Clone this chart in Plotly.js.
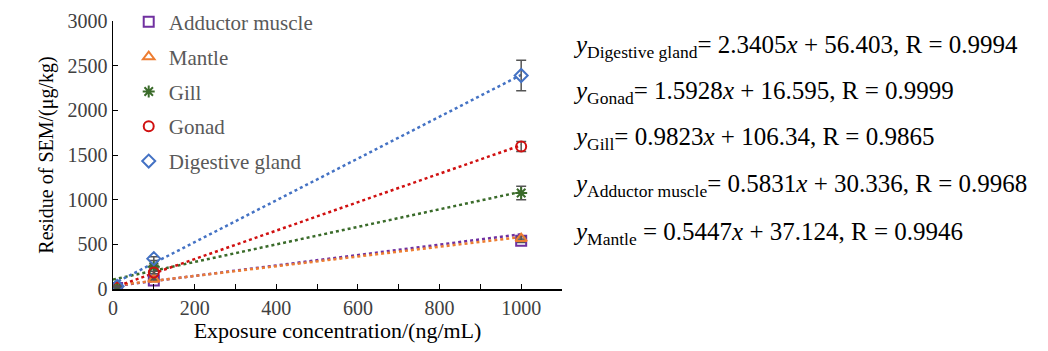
<!DOCTYPE html>
<html><head><meta charset="utf-8">
<script src="https://cdn.plot.ly/plotly-3.0.1.min.js"></script>
<style>html,body{margin:0;padding:0;background:#fff}#c{width:1048px;height:351px}</style>
</head><body><div id="c"></div>
<script>
const xs = [10, 100, 1000];
const names = ["Adductor muscle", "Mantle", "Gill", "Gonad", "Digestive gland"];
const adductor = [10, 95, 540];
const mantle = [12, 110, 565];
const gill = [20, 250, 1075];
const gonad = [18, 185, 1595];
const digestive = [30, 340, 2390];
const errAdductor = [3, 10, 20];
const errMantle = [3, 10, 20];
const errGill = [3, 15, 75];
const errGonad = [3, 15, 55];
const errDigestive = [4, 20, 170];
const slopes = [0.5831, 0.5447, 0.9823, 1.5928, 2.3405];
const intercepts = [30.336, 37.124, 106.34, 16.595, 56.403];
const rValues = ["0.9968", "0.9946", "0.9865", "0.9999", "0.9994"];
const fitRange = [0, 1000];

const series = [adductor, mantle, gill, gonad, digestive];
const errs = [errAdductor, errMantle, errGill, errGonad, errDigestive];
const colors = ["#7030A0", "#ED7D31", "#3A6B2A", "#D01010", "#4472C4"];
const symbols = ["square-open", "triangle-up-open", "asterisk-open", "circle-open", "diamond-open"];

const traces = [];
for (let i = 0; i < 5; i++) {
  traces.push({
    x: fitRange, y: fitRange.map(v => slopes[i] * v + intercepts[i]),
    mode: "lines", line: {color: colors[i], width: 2.5, dash: "dot"},
    showlegend: false, hoverinfo: "skip", legendgroup: "g" + i
  });
}
for (let i = 0; i < 5; i++) {
  traces.push({
    x: xs, y: series[i], name: names[i], mode: "markers", legendgroup: "g" + i,
    marker: {symbol: symbols[i], size: 10, color: colors[i], line: {color: colors[i], width: 2}},
    error_y: {type: "data", array: errs[i], visible: true, color: "#555555", thickness: 1.5, width: 5}
  });
}

const eqLabels = ["Digestive gland", "Gonad", "Gill", "Adductor muscle", "Mantle"];
const eqIdx = [4, 3, 2, 0, 1];
const eqY = [47, 92, 138, 185, 233];
const annotations = eqIdx.map((k, j) => ({
  xref: "paper", yref: "paper", xanchor: "left", yanchor: "middle",
  x: (571 - 113) / 449, y: (289 - eqY[j]) / 268,
  showarrow: false,
  text: "<i>y</i><sub>" + eqLabels[j] + "</sub>" + (k === 1 ? " = " : "= ") + slopes[k].toFixed(4) + "<i>x</i> + " + intercepts[k] + ", R = " + rValues[k],
  font: {family: "Liberation Serif, Times New Roman, serif", size: 25, color: "#000"}
}));

const layout = {
  width: 1048, height: 351,
  margin: {l: 113, r: 486, t: 21, b: 62, autoexpand: false},
  paper_bgcolor: "#fff", plot_bgcolor: "#fff",
  font: {family: "Liberation Serif, Times New Roman, serif", size: 20, color: "#404040"},
  showlegend: true,
  legend: {x: 0.035, y: 1.072, xanchor: "left", yanchor: "top", bgcolor: "rgba(0,0,0,0)",
    font: {size: 21, color: "#595959"}, tracegroupgap: 4.5, itemwidth: 30},
  xaxis: {range: [0, 1100], tickvals: [0, 200, 400, 600, 800, 1000], showgrid: false, zeroline: false,
    showline: true, linecolor: "#000", linewidth: 1.5, ticks: "inside", ticklen: 5, tickcolor: "#000",
    minor: {dtick: 100, ticks: "inside", ticklen: 5, tickcolor: "#000"},
    title: {text: "Exposure concentration/(ng/mL)", font: {size: 22, color: "#000"}, standoff: 4},
    tickfont: {size: 20, color: "#404040"}},
  yaxis: {range: [0, 3000], dtick: 500, showgrid: false, zeroline: false,
    showline: true, linecolor: "#000", linewidth: 1.5, ticks: "inside", ticklen: 5, tickcolor: "#000",
    title: {text: "Residue of SEM/(μg/kg)", font: {size: 20, color: "#000"}, standoff: 8},
    tickfont: {size: 20, color: "#404040"}},
  annotations: annotations
};
Plotly.newPlot("c", traces, layout, {displayModeBar: false, staticPlot: true});
</script></body></html>
